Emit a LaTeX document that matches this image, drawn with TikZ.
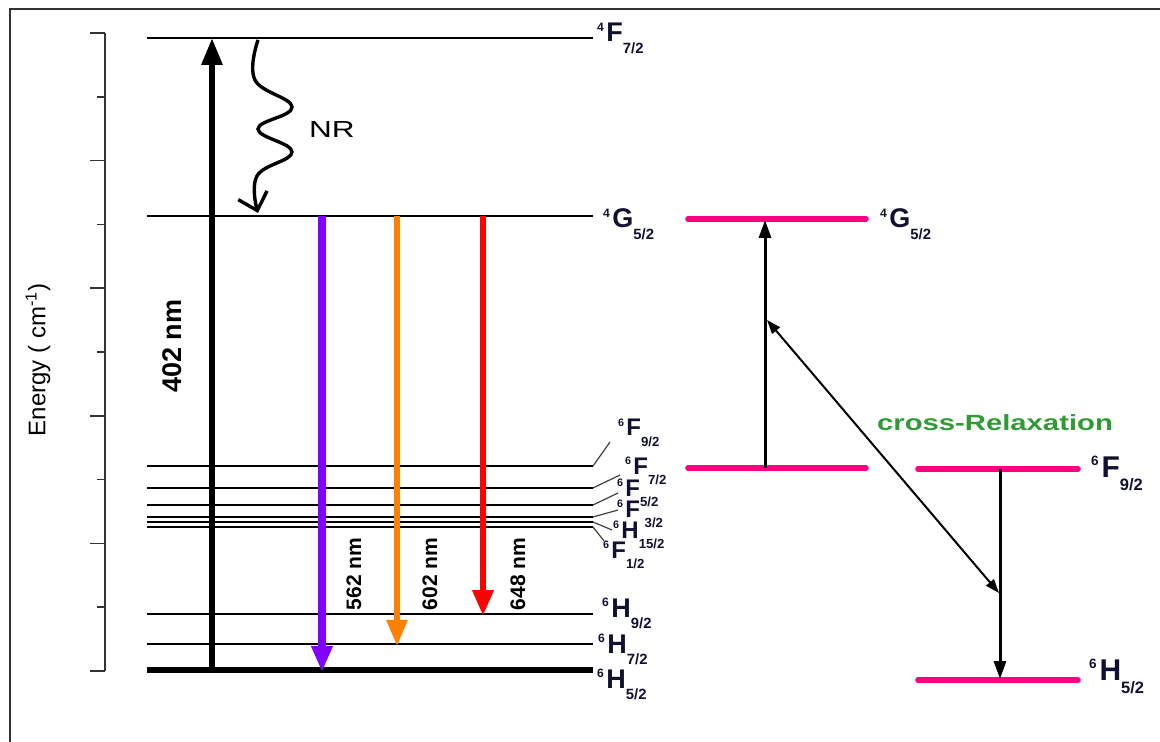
\documentclass[tikz,border=0pt]{standalone}
\usepackage{fontspec}
\setmainfont{Liberation Sans}
\usetikzlibrary{arrows.meta}
\definecolor{cviolet}{HTML}{8000FF}
\definecolor{corange}{HTML}{FF8000}
\definecolor{cred}{HTML}{FF0000}
\definecolor{cpink}{HTML}{FF0080}
\definecolor{cgreen}{HTML}{2F9B35}
\definecolor{cframe}{HTML}{333333}
\definecolor{cink}{HTML}{101030}
\newcommand{\term}[3]{\raisebox{0.39em}{\scalebox{0.45}{#1}}\kern0.1em#2\raisebox{-0.44em}{\scalebox{0.55}{#3}}}
\tikzset{
  every picture/.style={line width=1pt},
  level/.style={draw=black, line width=1.3pt},
  ground/.style={draw=black, line width=3.2pt},
  pinklevel/.style={draw=cpink, line width=2.8pt, line cap=round},
  axis/.style={draw=black!80, line width=0.8pt},
  frame/.style={draw=cframe, line width=0.8pt},
  leader/.style={draw=black!75, line width=0.6pt},
  term/.style={anchor=base west, inner sep=0pt, text=cink, font=\fontsize{13.5}{15}\selectfont\bfseries},
  termsmall/.style={term, font=\fontsize{12}{14}\selectfont\bfseries},
  termbig/.style={term, font=\fontsize{15}{17}\selectfont\bfseries},
  pump/.style={draw=black, line width=3pt, -{Triangle[length=13.5pt, width=10pt]}},
  emit/.style={draw=#1, -{Triangle[length=13pt, width=10pt]}},
  nr/.style={draw=black, line width=1.7pt, -{Straight Barb[length=8pt, width=15pt, line width=1.7pt]}},
  cr/.style={draw=black, line width=1.5pt, -{Triangle[length=9pt, width=6pt]}},
  xr/.style={draw=black, line width=1pt, {Triangle[length=7pt, width=5pt]}-{Triangle[length=7pt, width=5pt]}},
  wl/.style={rotate=90, inner sep=0pt, font=\fontsize{10.5}{12}\selectfont\bfseries},
}
\begin{document}
\begin{tikzpicture}[x=0.5pt, y=-0.5pt]
  \useasboundingbox (0,0) rectangle (1160,742);
  % frame and energy axis
  \draw[frame] (10,742) -- (10,9) -- (1160,9);
  \draw[axis] (105,33) -- (105,671);
  \foreach \i in {0,...,10} {
    \pgfmathsetmacro{\ty}{33+63.8*\i}
    \ifodd\i \draw[axis] (97,\ty) -- (105,\ty); \else \draw[axis] (90,\ty) -- (105,\ty); \fi
  }
  \node[rotate=90, font=\fontsize{12}{14}\selectfont] (ylab) at (38,360) {Energy ( cm\textsuperscript{-1})};
  % left levels
  \foreach \n/\y in {aF72/38, aG52/216, F92/466, F72/488, F52/505, F32/517, H152/522, F12/527, H92/614, H72/644} {
    \coordinate (\n W) at (147,\y);
    \coordinate (\n E) at (593,\y);
    \draw[level] (\n W) -- (\n E);
  }
  \coordinate (H52W) at (147,670);
  \coordinate (H52E) at (593,670);
  \draw[ground] (H52W) -- (H52E);
  % left labels
  \node[term] (laF72) at (596,42) {\term{4}{F}{7/2}};
  \node[term] (laG52) at (602,228) {\term{4}{G}{5/2}};
  \node[termsmall] (lF92) at (617,436) {\term{6}{F}{9/2}};
  \node[termsmall] (lF72) at (624,474) {\term{6}{F}{7/2}};
  \node[termsmall] (lF52) at (616,496) {\term{6}{F}{5/2}};
  \node[termsmall] (lF32) at (616,517) {\term{6}{F}{\kern0.35em3/2}};
  \node[termsmall] (lH152) at (612,538) {\term{6}{H}{15/2}};
  \node[termsmall] (lF12) at (602,558) {\term{6}{F}{1/2}};
  \node[term] (lH92) at (601,617) {\term{6}{H}{9/2}};
  \node[term] (lH72) at (597,653) {\term{6}{H}{7/2}};
  \node[term] (lH52) at (596,688) {\term{6}{H}{5/2}};
  % leaders
  \foreach \n/\tx/\ty in {F92/610/442, F72/620/475, F52/618/493, F32/618/510, H152/612/530, F12/604/541} {
    \coordinate (\n T) at (\tx,\ty);
    \draw[leader] (\n E) -- (\n T);
  }
  % transitions
  \coordinate (xPump) at (212,0);
  \coordinate (xV) at (322,0);
  \coordinate (xO) at (397,0);
  \coordinate (xR) at (483,0);
  \draw[pump] (xPump |- H52W) -- (xPump |- aF72W);
  \node[wl, font=\fontsize{13.5}{16}\selectfont\bfseries] (l402) at (172,346) {402 nm};
  \coordinate (nrA) at (258,40);
  \coordinate (nrB) at (258,213);
  \draw[nr] plot[smooth, tension=0.7] coordinates {(nrA) (255,80) (292,107) (258,129) (292,152) (257,176) (nrB)};
  \node[font=\fontsize{11.6}{14}\selectfont] (lNR) at (332,130) {\scalebox{1.36}[1]{NR}};
  \draw[emit=cviolet, line width=3.8pt] (xV |- aG52W) -- (xV |- 0,672);
  \draw[emit=corange, line width=2.7pt] (xO |- aG52W) -- (xO |- 0,646);
  \draw[emit=cred, line width=3.3pt] (xR |- aG52W) -- (xR |- 0,616);
  \node[wl] (l562) at (354,574) {562 nm};
  \node[wl] (l602) at (430,574) {602 nm};
  \node[wl] (l648) at (518,574) {648 nm};
  % right levels
  \foreach \n/\xa/\xb/\y in {bG52/688/866/219, bF72/688/866/468, bF92/918/1078/469, bH52/918/1078/680} {
    \coordinate (\n W) at (\xa,\y);
    \coordinate (\n E) at (\xb,\y);
    \draw[pinklevel] (\n W) -- (\n E);
  }
  \node[term] (lbG52) at (879,228) {\term{4}{G}{5/2}};
  \node[termbig] (lbF92) at (1090,477) {\term{6}{F}{9/2}};
  \node[termbig] (lbH52) at (1088,680) {\term{6}{H}{5/2}};
  % cross-relaxation
  \coordinate (xUp) at (765,0);
  \coordinate (xDn) at (1000,0);
  \draw[cr] (xUp |- bF72W) -- (xUp |- 0,220);
  \draw[cr] (xDn |- bF92W) -- (xDn |- 0,679);
  \coordinate (crA) at (767,320);
  \coordinate (crB) at (999,593);
  \draw[xr] (crA) -- (crB);
  \node[text=cgreen, font=\fontsize{11}{13}\selectfont\bfseries] (lcr) at (995,423) {\scalebox{1.33}[1]{cross-Relaxation}};
\end{tikzpicture}
\end{document}
